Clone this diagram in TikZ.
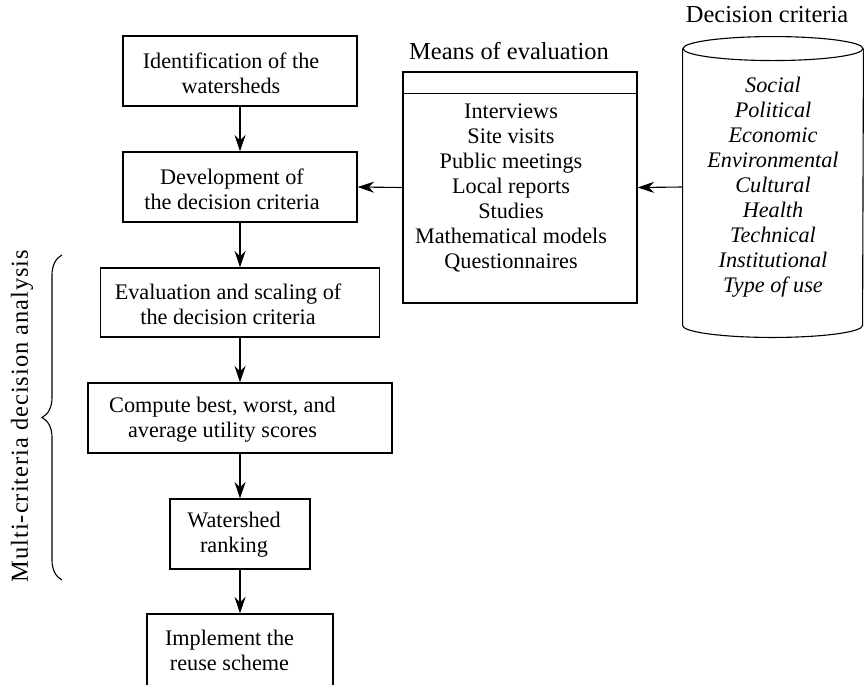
\documentclass[tikz,border=0pt]{standalone}
\usepackage{fontspec}
\setmainfont{Liberation Serif}
\usetikzlibrary{arrows.meta, calc, decorations.pathreplacing}
\tikzset{
  box/.style={rectangle, draw, line width=0.5pt, inner sep=0pt},
  txt/.style={align=center, inner sep=0pt, font=\fontsize{10}{11.25}\selectfont},
  title/.style={inner sep=0pt, font=\fontsize{11}{13}\selectfont},
  arrow/.style={-{Stealth[length=7.5pt, width=5pt, inset=2.5pt]}, line width=0.5pt},
  outline/.style={line width=0.5pt}
}
\begin{document}
\begin{tikzpicture}[x=0.45pt, y=-0.45pt]
  \useasboundingbox (0,0) rectangle (864,684);

  % Boxes of the main column
  \node[box, minimum width=105.3pt, minimum height=31.5pt] (ident) at (240,71) {};
  \node[box, minimum width=105.3pt, minimum height=31.5pt] (devel) at (240,187) {};
  \node[box, minimum width=125.55pt, minimum height=31.05pt] (evalsc) at (240,302.5) {};
  \node[box, minimum width=136.8pt, minimum height=31.5pt] (compute) at (240,418) {};
  \node[box, minimum width=63pt, minimum height=31.5pt] (rank) at (240,534) {};
  \node[box, minimum width=83.7pt, minimum height=34.2pt] (impl) at (240,652) {};

  % Texts of the main column
  \node[txt] (identtxt) at (231,73) {Identification of the\\watersheds};
  \node[txt] (develtxt) at (232,189.5) {Development of\\the decision criteria};
  \node[txt] (evalsctxt) at (228,304.5) {Evaluation and scaling of\\the decision criteria};
  \node[txt] (computetxt) at (222.5,420) {Compute best, worst, and\\average utility scores};
  \node[txt] (ranktxt) at (234,535) {Watershed\\ranking};
  \node[txt] (impltxt) at (229.5,650) {Implement the\\reuse scheme};

  % Means of evaluation
  \node[title] (meanstitle) at (509,51) {Means of evaluation};
  \node[box, minimum width=105.3pt, minimum height=103.95pt] (means) at (520,187.5) {};
  \draw[outline] ($(means.north west)+(0,22)$) -- ($(means.north east)+(0,22)$);
  \node[txt] (meanstxt) at (511,188) {Interviews\\Site visits\\Public meetings\\Local reports\\Studies\\Mathematical models\\Questionnaires};

  % Decision criteria (cylinder)
  \node[title] (crittitle) at (767,14.5) {Decision criteria};
  \node[txt, font=\fontsize{10}{11.25}\selectfont\itshape, minimum width=81pt, minimum height=124.2pt] (crit) at (773,187)
    {Social\\Political\\Economic\\Environmental\\Cultural\\Health\\Technical\\Institutional\\Type of use};
  \draw[outline] (crit.north west) -- (crit.south west)
    arc[start angle=180, end angle=360, x radius=40.5pt, y radius=5.4pt] -- (crit.north east);
  \draw[outline] (crit.north) ellipse [x radius=40.5pt, y radius=5.4pt];

  % Brace and its label
  \coordinate (bracebot) at (62,580);
  \coordinate (bracetop) at (62,255);
  \draw[line width=0.5pt, decorate, decoration={brace, amplitude=9pt}] (bracebot) -- (bracetop);
  \node[title, rotate=90, font=\fontsize{11}{13}\selectfont\addfontfeature{LetterSpace=4}] (mcda) at (22,416) {Multi-criteria decision analysis};

  % Connections
  \draw[arrow] (ident.south) -- (devel.north);
  \draw[arrow] (devel.south) -- (evalsc.north);
  \draw[arrow] (evalsc.south) -- (compute.north);
  \draw[arrow] (compute.south) -- (rank.north);
  \draw[arrow] (rank.south) -- (impl.north);
  \draw[arrow] (crit.west) -- (means.east);
  \draw[arrow] (means.west) -- (devel.east);
\end{tikzpicture}
\end{document}
